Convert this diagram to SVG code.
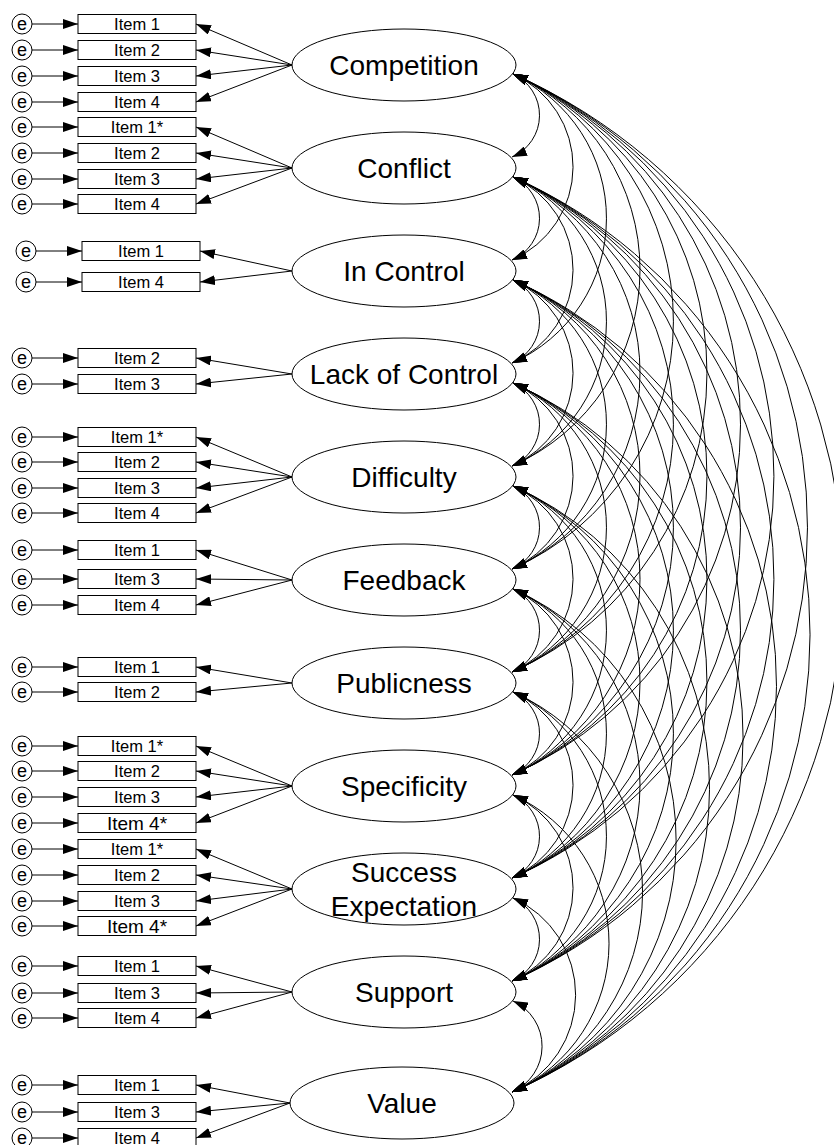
<svg xmlns="http://www.w3.org/2000/svg" width="834" height="1145" viewBox="0 0 834 1145">
<defs>
<marker id="ah" viewBox="0 0 15 10" refX="15" refY="5" markerWidth="15" markerHeight="10" markerUnits="userSpaceOnUse" orient="auto-start-reverse"><path d="M0,0L15,5L0,10z" fill="#000"/></marker>
<style>
.ln{fill:none;stroke:#000;stroke-width:1;marker-end:url(#ah)}
.cov{fill:none;stroke:#000;stroke-width:1;marker-start:url(#ah);marker-end:url(#ah)}
.box{fill:#fff;stroke:#000;stroke-width:1}
.err{fill:#fff;stroke:#000;stroke-width:1}
.lat{fill:#fff;stroke:#000;stroke-width:1}
.it{font-family:"Liberation Sans",Arial,sans-serif;font-size:16.5px;text-anchor:middle}
.it2{font-family:"Liberation Sans",Arial,sans-serif;font-size:19px;text-anchor:middle}
.et{font-family:"Liberation Sans",Arial,sans-serif;font-size:18px;text-anchor:middle}
.ft{font-family:"Liberation Sans",Arial,sans-serif;font-size:28px;text-anchor:middle}
</style>
</defs>
<rect width="834" height="1145" fill="#fff"/>

<!-- connectors: error terms, loadings, factor covariances -->
<g id="connectors">
<!-- error to indicator -->
<g id="errpaths">
<path class="ln" d="M32,24H78"/><path class="ln" d="M32,50H78"/><path class="ln" d="M32,76H78"/><path class="ln" d="M32,102H78"/>
<path class="ln" d="M32,127H78"/><path class="ln" d="M32,153H78"/><path class="ln" d="M32,179H78"/><path class="ln" d="M32,204H78"/>
<path class="ln" d="M36,251H82"/><path class="ln" d="M36,282H82"/>
<path class="ln" d="M32,358H78"/><path class="ln" d="M32,384H78"/>
<path class="ln" d="M32,437H78"/><path class="ln" d="M32,462H78"/><path class="ln" d="M32,488H78"/><path class="ln" d="M32,513H78"/>
<path class="ln" d="M32,550H78"/><path class="ln" d="M32,579H78"/><path class="ln" d="M32,605H78"/>
<path class="ln" d="M32,667H78"/><path class="ln" d="M32,692H78"/>
<path class="ln" d="M32,746H78"/><path class="ln" d="M32,771H78"/><path class="ln" d="M32,797H78"/><path class="ln" d="M32,823H78"/>
<path class="ln" d="M32,849H78"/><path class="ln" d="M32,875H78"/><path class="ln" d="M32,901H78"/><path class="ln" d="M32,926H78"/>
<path class="ln" d="M32,966H78"/><path class="ln" d="M32,993H78"/><path class="ln" d="M32,1018H78"/>
<path class="ln" d="M32,1085H78"/><path class="ln" d="M32,1112H78"/><path class="ln" d="M32,1138H78"/>
</g>
<!-- factor to indicator -->
<g id="loadings">
<path class="ln" d="M292,65L196,24"/><path class="ln" d="M292,65L196,50"/><path class="ln" d="M292,65L196,76"/><path class="ln" d="M292,65L196,102"/>
<path class="ln" d="M292,168L196,127"/><path class="ln" d="M292,168L196,153"/><path class="ln" d="M292,168L196,179"/><path class="ln" d="M292,168L196,204"/>
<path class="ln" d="M292,271L200,251"/><path class="ln" d="M292,271L200,282"/>
<path class="ln" d="M292,374L196,358"/><path class="ln" d="M292,374L196,384"/>
<path class="ln" d="M292,477L196,437"/><path class="ln" d="M292,477L196,462"/><path class="ln" d="M292,477L196,488"/><path class="ln" d="M292,477L196,513"/>
<path class="ln" d="M292,580L196,550"/><path class="ln" d="M292,580L196,579"/><path class="ln" d="M292,580L196,605"/>
<path class="ln" d="M292,683L196,667"/><path class="ln" d="M292,683L196,692"/>
<path class="ln" d="M292,786L196,746"/><path class="ln" d="M292,786L196,771"/><path class="ln" d="M292,786L196,797"/><path class="ln" d="M292,786L196,823"/>
<path class="ln" d="M292,889L196,849"/><path class="ln" d="M292,889L196,875"/><path class="ln" d="M292,889L196,901"/><path class="ln" d="M292,889L196,926"/>
<path class="ln" d="M292,992L196,966"/><path class="ln" d="M292,992L196,993"/><path class="ln" d="M292,992L196,1018"/>
<path class="ln" d="M290,1103L196,1085"/><path class="ln" d="M290,1103L196,1112"/><path class="ln" d="M290,1103L196,1138"/>
</g>
<!-- covariances between factors -->
<g id="covariances">
<path class="cov" d="M513,74A45.4,45.4 0 0 1 512,157"/>
<path class="cov" d="M513,74A101.7,101.7 0 0 1 512,260"/>
<path class="cov" d="M513,74A158.1,158.1 0 0 1 512,363"/>
<path class="cov" d="M513,74A214.4,214.4 0 0 1 512,466"/>
<path class="cov" d="M513,74A270.8,270.8 0 0 1 512,569"/>
<path class="cov" d="M513,74A327.1,327.1 0 0 1 512,672"/>
<path class="cov" d="M513,74A383.4,383.4 0 0 1 512,775"/>
<path class="cov" d="M513,74A439.8,439.8 0 0 1 512,878"/>
<path class="cov" d="M513,74A496.1,496.1 0 0 1 512,981"/>
<path class="cov" d="M513,74A556.8,556.8 0 0 1 512,1092"/>

<path class="cov" d="M513,177A45.4,45.4 0 0 1 512,260"/>
<path class="cov" d="M513,177A101.7,101.7 0 0 1 512,363"/>
<path class="cov" d="M513,177A158.1,158.1 0 0 1 512,466"/>
<path class="cov" d="M513,177A214.4,214.4 0 0 1 512,569"/>
<path class="cov" d="M513,177A270.8,270.8 0 0 1 512,672"/>
<path class="cov" d="M513,177A327.1,327.1 0 0 1 512,775"/>
<path class="cov" d="M513,177A383.4,383.4 0 0 1 512,878"/>
<path class="cov" d="M513,177A439.8,439.8 0 0 1 512,981"/>
<path class="cov" d="M513,177A500.5,500.5 0 0 1 512,1092"/>

<path class="cov" d="M513,280A45.4,45.4 0 0 1 512,363"/>
<path class="cov" d="M513,280A101.7,101.7 0 0 1 512,466"/>
<path class="cov" d="M513,280A158.1,158.1 0 0 1 512,569"/>
<path class="cov" d="M513,280A214.4,214.4 0 0 1 512,672"/>
<path class="cov" d="M513,280A270.8,270.8 0 0 1 512,775"/>
<path class="cov" d="M513,280A327.1,327.1 0 0 1 512,878"/>
<path class="cov" d="M513,280A383.4,383.4 0 0 1 512,981"/>
<path class="cov" d="M513,280A444.2,444.2 0 0 1 512,1092"/>

<path class="cov" d="M513,383A45.4,45.4 0 0 1 512,466"/>
<path class="cov" d="M513,383A101.7,101.7 0 0 1 512,569"/>
<path class="cov" d="M513,383A158.1,158.1 0 0 1 512,672"/>
<path class="cov" d="M513,383A214.4,214.4 0 0 1 512,775"/>
<path class="cov" d="M513,383A270.8,270.8 0 0 1 512,878"/>
<path class="cov" d="M513,383A327.1,327.1 0 0 1 512,981"/>
<path class="cov" d="M513,383A387.8,387.8 0 0 1 512,1092"/>

<path class="cov" d="M513,486A45.4,45.4 0 0 1 512,569"/>
<path class="cov" d="M513,486A101.7,101.7 0 0 1 512,672"/>
<path class="cov" d="M513,486A158.1,158.1 0 0 1 512,775"/>
<path class="cov" d="M513,486A214.4,214.4 0 0 1 512,878"/>
<path class="cov" d="M513,486A270.8,270.8 0 0 1 512,981"/>
<path class="cov" d="M513,486A331.5,331.5 0 0 1 512,1092"/>

<path class="cov" d="M513,589A45.4,45.4 0 0 1 512,672"/>
<path class="cov" d="M513,589A101.7,101.7 0 0 1 512,775"/>
<path class="cov" d="M513,589A158.1,158.1 0 0 1 512,878"/>
<path class="cov" d="M513,589A214.4,214.4 0 0 1 512,981"/>
<path class="cov" d="M513,589A275.1,275.1 0 0 1 512,1092"/>

<path class="cov" d="M513,692A45.4,45.4 0 0 1 512,775"/>
<path class="cov" d="M513,692A101.7,101.7 0 0 1 512,878"/>
<path class="cov" d="M513,692A158.1,158.1 0 0 1 512,981"/>
<path class="cov" d="M513,692A218.8,218.8 0 0 1 512,1092"/>

<path class="cov" d="M513,795A45.4,45.4 0 0 1 512,878"/>
<path class="cov" d="M513,795A101.7,101.7 0 0 1 512,981"/>
<path class="cov" d="M513,795A162.5,162.5 0 0 1 512,1092"/>

<path class="cov" d="M513,898A45.4,45.4 0 0 1 512,981"/>
<path class="cov" d="M513,898A106.1,106.1 0 0 1 512,1092"/>

<path class="cov" d="M513,1001A49.8,49.8 0 0 1 512,1092"/>
</g>
</g>

<!-- Competition -->
<g id="competition">
<ellipse class="lat" cx="404" cy="65" rx="112" ry="36"/><text class="ft" x="404" y="75">Competition</text>
<circle class="err" cx="22" cy="24" r="10"/><text class="et" x="22" y="29.5">e</text><rect class="box" x="78" y="14.5" width="118" height="19"/><text class="it" x="137" y="30">Item 1</text>
<circle class="err" cx="22" cy="50" r="10"/><text class="et" x="22" y="55.5">e</text><rect class="box" x="78" y="40.5" width="118" height="19"/><text class="it" x="137" y="56">Item 2</text>
<circle class="err" cx="22" cy="76" r="10"/><text class="et" x="22" y="81.5">e</text><rect class="box" x="78" y="66.5" width="118" height="19"/><text class="it" x="137" y="82">Item 3</text>
<circle class="err" cx="22" cy="102" r="10"/><text class="et" x="22" y="107.5">e</text><rect class="box" x="78" y="92.5" width="118" height="19"/><text class="it" x="137" y="108">Item 4</text>
</g>

<!-- Conflict -->
<g id="conflict">
<ellipse class="lat" cx="404" cy="168" rx="112" ry="36"/><text class="ft" x="404" y="178">Conflict</text>
<circle class="err" cx="22" cy="127" r="10"/><text class="et" x="22" y="132.5">e</text><rect class="box" x="78" y="117.5" width="118" height="19"/><text class="it" x="137" y="133">Item 1*</text>
<circle class="err" cx="22" cy="153" r="10"/><text class="et" x="22" y="158.5">e</text><rect class="box" x="78" y="143.5" width="118" height="19"/><text class="it" x="137" y="159">Item 2</text>
<circle class="err" cx="22" cy="179" r="10"/><text class="et" x="22" y="184.5">e</text><rect class="box" x="78" y="169.5" width="118" height="19"/><text class="it" x="137" y="185">Item 3</text>
<circle class="err" cx="22" cy="204" r="10"/><text class="et" x="22" y="209.5">e</text><rect class="box" x="78" y="194.5" width="118" height="19"/><text class="it" x="137" y="210">Item 4</text>
</g>

<!-- In Control -->
<g id="in-control">
<ellipse class="lat" cx="404" cy="271" rx="112" ry="36"/><text class="ft" x="404" y="281">In Control</text>
<circle class="err" cx="26" cy="251" r="10"/><text class="et" x="26" y="256.5">e</text><rect class="box" x="82" y="241.5" width="118" height="19"/><text class="it" x="141" y="257">Item 1</text>
<circle class="err" cx="26" cy="282" r="10"/><text class="et" x="26" y="287.5">e</text><rect class="box" x="82" y="272.5" width="118" height="19"/><text class="it" x="141" y="288">Item 4</text>
</g>

<!-- Lack of Control -->
<g id="lack-of-control">
<ellipse class="lat" cx="404" cy="374" rx="112" ry="36"/><text class="ft" x="404" y="384">Lack of Control</text>
<circle class="err" cx="22" cy="358" r="10"/><text class="et" x="22" y="363.5">e</text><rect class="box" x="78" y="348.5" width="118" height="19"/><text class="it" x="137" y="364">Item 2</text>
<circle class="err" cx="22" cy="384" r="10"/><text class="et" x="22" y="389.5">e</text><rect class="box" x="78" y="374.5" width="118" height="19"/><text class="it" x="137" y="390">Item 3</text>
</g>

<!-- Difficulty -->
<g id="difficulty">
<ellipse class="lat" cx="404" cy="477" rx="112" ry="36"/><text class="ft" x="404" y="487">Difficulty</text>
<circle class="err" cx="22" cy="437" r="10"/><text class="et" x="22" y="442.5">e</text><rect class="box" x="78" y="427.5" width="118" height="19"/><text class="it" x="137" y="443">Item 1*</text>
<circle class="err" cx="22" cy="462" r="10"/><text class="et" x="22" y="467.5">e</text><rect class="box" x="78" y="452.5" width="118" height="19"/><text class="it" x="137" y="468">Item 2</text>
<circle class="err" cx="22" cy="488" r="10"/><text class="et" x="22" y="493.5">e</text><rect class="box" x="78" y="478.5" width="118" height="19"/><text class="it" x="137" y="494">Item 3</text>
<circle class="err" cx="22" cy="513" r="10"/><text class="et" x="22" y="518.5">e</text><rect class="box" x="78" y="503.5" width="118" height="19"/><text class="it" x="137" y="519">Item 4</text>
</g>

<!-- Feedback -->
<g id="feedback">
<ellipse class="lat" cx="404" cy="580" rx="112" ry="36"/><text class="ft" x="404" y="590">Feedback</text>
<circle class="err" cx="22" cy="550" r="10"/><text class="et" x="22" y="555.5">e</text><rect class="box" x="78" y="540.5" width="118" height="19"/><text class="it" x="137" y="556">Item 1</text>
<circle class="err" cx="22" cy="579" r="10"/><text class="et" x="22" y="584.5">e</text><rect class="box" x="78" y="569.5" width="118" height="19"/><text class="it" x="137" y="585">Item 3</text>
<circle class="err" cx="22" cy="605" r="10"/><text class="et" x="22" y="610.5">e</text><rect class="box" x="78" y="595.5" width="118" height="19"/><text class="it" x="137" y="611">Item 4</text>
</g>

<!-- Publicness -->
<g id="publicness">
<ellipse class="lat" cx="404" cy="683" rx="112" ry="36"/><text class="ft" x="404" y="693">Publicness</text>
<circle class="err" cx="22" cy="667" r="10"/><text class="et" x="22" y="672.5">e</text><rect class="box" x="78" y="657.5" width="118" height="19"/><text class="it" x="137" y="673">Item 1</text>
<circle class="err" cx="22" cy="692" r="10"/><text class="et" x="22" y="697.5">e</text><rect class="box" x="78" y="682.5" width="118" height="19"/><text class="it" x="137" y="698">Item 2</text>
</g>

<!-- Specificity -->
<g id="specificity">
<ellipse class="lat" cx="404" cy="786" rx="112" ry="36"/><text class="ft" x="404" y="796">Specificity</text>
<circle class="err" cx="22" cy="746" r="10"/><text class="et" x="22" y="751.5">e</text><rect class="box" x="78" y="736.5" width="118" height="19"/><text class="it" x="137" y="752">Item 1*</text>
<circle class="err" cx="22" cy="771" r="10"/><text class="et" x="22" y="776.5">e</text><rect class="box" x="78" y="761.5" width="118" height="19"/><text class="it" x="137" y="777">Item 2</text>
<circle class="err" cx="22" cy="797" r="10"/><text class="et" x="22" y="802.5">e</text><rect class="box" x="78" y="787.5" width="118" height="19"/><text class="it" x="137" y="803">Item 3</text>
<circle class="err" cx="22" cy="823" r="10"/><text class="et" x="22" y="828.5">e</text><rect class="box" x="78" y="813.5" width="118" height="19"/><text class="it2" x="137" y="830">Item 4*</text>
</g>

<!-- Success Expectation -->
<g id="success-expectation">
<ellipse class="lat" cx="404" cy="889" rx="112" ry="36"/><text class="ft" x="404" y="882">Success</text><text class="ft" x="404" y="916">Expectation</text>
<circle class="err" cx="22" cy="849" r="10"/><text class="et" x="22" y="854.5">e</text><rect class="box" x="78" y="839.5" width="118" height="19"/><text class="it" x="137" y="855">Item 1*</text>
<circle class="err" cx="22" cy="875" r="10"/><text class="et" x="22" y="880.5">e</text><rect class="box" x="78" y="865.5" width="118" height="19"/><text class="it" x="137" y="881">Item 2</text>
<circle class="err" cx="22" cy="901" r="10"/><text class="et" x="22" y="906.5">e</text><rect class="box" x="78" y="891.5" width="118" height="19"/><text class="it" x="137" y="907">Item 3</text>
<circle class="err" cx="22" cy="926" r="10"/><text class="et" x="22" y="931.5">e</text><rect class="box" x="78" y="916.5" width="118" height="19"/><text class="it2" x="137" y="933">Item 4*</text>
</g>

<!-- Support -->
<g id="support">
<ellipse class="lat" cx="404" cy="992" rx="112" ry="36"/><text class="ft" x="404" y="1002">Support</text>
<circle class="err" cx="22" cy="966" r="10"/><text class="et" x="22" y="971.5">e</text><rect class="box" x="78" y="956.5" width="118" height="19"/><text class="it" x="137" y="972">Item 1</text>
<circle class="err" cx="22" cy="993" r="10"/><text class="et" x="22" y="998.5">e</text><rect class="box" x="78" y="983.5" width="118" height="19"/><text class="it" x="137" y="999">Item 3</text>
<circle class="err" cx="22" cy="1018" r="10"/><text class="et" x="22" y="1023.5">e</text><rect class="box" x="78" y="1008.5" width="118" height="19"/><text class="it" x="137" y="1024">Item 4</text>
</g>

<!-- Value -->
<g id="value">
<ellipse class="lat" cx="402" cy="1103" rx="112" ry="36"/><text class="ft" x="402" y="1113">Value</text>
<circle class="err" cx="22" cy="1085" r="10"/><text class="et" x="22" y="1090.5">e</text><rect class="box" x="78" y="1075.5" width="118" height="19"/><text class="it" x="137" y="1091">Item 1</text>
<circle class="err" cx="22" cy="1112" r="10"/><text class="et" x="22" y="1117.5">e</text><rect class="box" x="78" y="1102.5" width="118" height="19"/><text class="it" x="137" y="1118">Item 3</text>
<circle class="err" cx="22" cy="1138" r="10"/><text class="et" x="22" y="1143.5">e</text><rect class="box" x="78" y="1128.5" width="118" height="19"/><text class="it" x="137" y="1144">Item 4</text>
</g>
</svg>
